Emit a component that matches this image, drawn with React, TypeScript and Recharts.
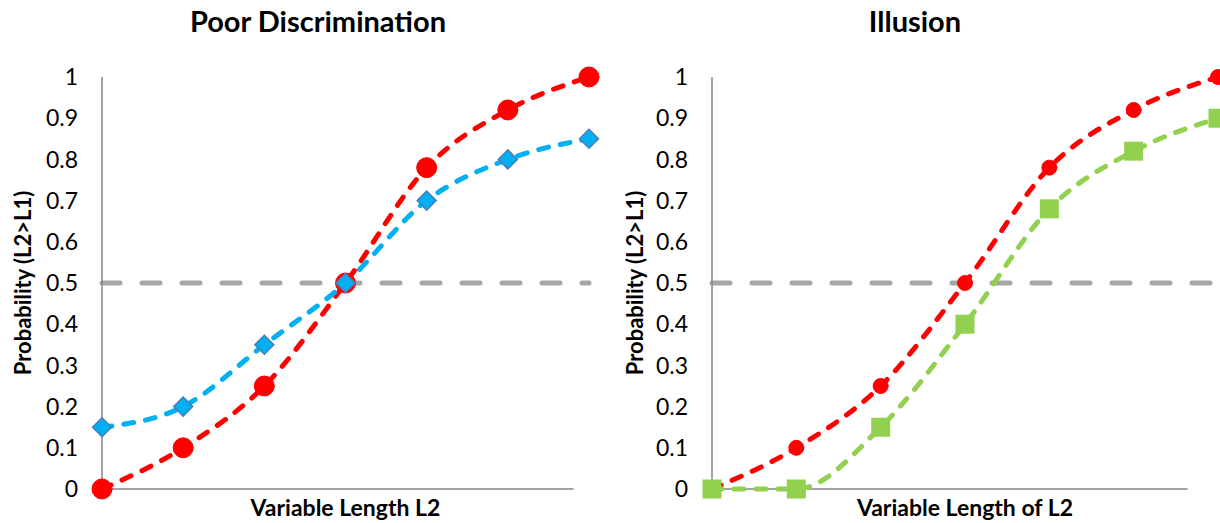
import React from "react"
import {
  LineChart,
  Line,
  XAxis,
  YAxis,
  ReferenceLine,
} from "recharts"

// x positions (7 test lengths, unlabeled on the axis)
const steps = [1, 2, 3, 4, 5, 6, 7]
const yTicks = [0, 0.1, 0.2, 0.3, 0.4, 0.5, 0.6, 0.7, 0.8, 0.9, 1]

const poorRed = [0, 0.1, 0.25, 0.5, 0.78, 0.92, 1.0]
const poorBlue = [0.15, 0.2, 0.35, 0.5, 0.7, 0.8, 0.85]

const illusionRed = [0, 0.1, 0.25, 0.5, 0.78, 0.92, 1.0]
const illusionGreen = [0, 0, 0.15, 0.4, 0.68, 0.82, 0.9]

const poorData = steps.map((x, i) => ({ x, red: poorRed[i], blue: poorBlue[i] }))
const illusionData = steps.map((x, i) => ({ x, red: illusionRed[i], green: illusionGreen[i] }))

const FONT = "Lato, 'Open Sans', sans-serif"
const DASH = "10 12"

const Diamond = (props: any) => {
  const { cx, cy } = props
  if (cx == null || cy == null) return null
  const r = 9.5
  return (
    <polygon
      points={`${cx},${cy - r} ${cx + r},${cy} ${cx},${cy + r} ${cx - r},${cy}`}
      fill="#00b0f0"
      stroke="#4a7ebb"
      strokeWidth={1.5}
    />
  )
}

const Square = (props: any) => {
  const { cx, cy } = props
  if (cx == null || cy == null) return null
  const s = 19
  return <rect x={cx - s / 2} y={cy - s / 2} width={s} height={s} fill="#92d050" />
}

const yLabel = (labelX: number) => ({ viewBox }: any) => {
  const cy = viewBox.y + viewBox.height / 2
  return (
    <text
      x={labelX}
      y={cy}
      transform={`rotate(-90, ${labelX}, ${cy})`}
      textAnchor="middle"
      dominantBaseline="central"
      fontFamily={FONT}
      fontWeight={700}
      fontSize={22}
      fill="#000"
    >
      Probability (L2&gt;L1)
    </text>
  )
}

const xLabelContent = (text: string) => ({ viewBox }: any) => (
  <text
    x={viewBox.x + viewBox.width / 2}
    y={507}
    textAnchor="middle"
    dominantBaseline="central"
    fontFamily={FONT}
    fontWeight={700}
    fontSize={23}
    fill="#000"
  >
    {text}
  </text>
)

function Panel({
  title,
  titleX,
  xLabel,
  data,
  second,
  axisEnd,
  marginRight,
  dotR,
  labelX,
}: any) {
  return (
    <div style={{ position: "relative", width: 610, height: 523 }}>
      <div
        style={{
          position: "absolute",
          left: titleX - 200,
          width: 400,
          top: 3,
          textAlign: "center",
          fontFamily: FONT,
          fontWeight: 700,
          fontSize: 29,
        }}
      >
        {title}
      </div>
      <LineChart
        width={610}
        height={523}
        data={data}
        margin={{ top: 77, right: marginRight, bottom: 0, left: 0 }}
      >
        <XAxis
          type="number"
          dataKey="x"
          domain={[1, 7]}
          tick={false}
          tickLine={false}
          axisLine={false}
          height={34}
          label={{ content: xLabelContent(xLabel) }}
        />
        <YAxis
          type="number"
          domain={[0, 1]}
          ticks={yTicks}
          interval={0}
          width={102}
          axisLine={{ stroke: "#868686", strokeWidth: 1.5 }}
          tickLine={false}
          tickSize={0}
          tickMargin={24}
          tick={{ fontFamily: FONT, fontSize: 23, fill: "#000" }}
          label={{ content: yLabel(labelX) }}
        />
        <ReferenceLine
          segment={[
            { x: 1, y: 0 },
            { x: axisEnd, y: 0 },
          ]}
          stroke="#868686"
          strokeWidth={1.5}
        />
        <ReferenceLine
          y={0.5}
          stroke="#a6a6a6"
          strokeWidth={5}
          strokeDasharray="18 22"
          strokeLinecap="round"
        />
        <Line
          type="monotone"
          dataKey="red"
          stroke="#ff0000"
          strokeWidth={5}
          strokeDasharray={DASH}
          strokeLinecap="round"
          dot={{ r: dotR, fill: "#ff0000", stroke: "#ff0000", strokeWidth: 1, strokeDasharray: "" }}
          isAnimationActive={false}
        />
        {second === "blue" ? (
          <Line
            type="monotone"
            dataKey="blue"
            stroke="#00b0f0"
            strokeWidth={5}
            strokeDasharray={DASH}
            strokeLinecap="round"
            dot={<Diamond />}
            isAnimationActive={false}
          />
        ) : (
          <Line
            type="monotone"
            dataKey="green"
            stroke="#92d050"
            strokeWidth={5}
            strokeDasharray={DASH}
            strokeLinecap="round"
            dot={<Square />}
            isAnimationActive={false}
          />
        )}
      </LineChart>
    </div>
  )
}

export default function App() {
  return (
    <div style={{ position: "absolute", left: 0, top: 0, width: 1220, height: 523, background: "#fff", display: "flex" }}>
      <Panel
        title="Poor Discrimination"
        titleX={318}
        xLabel="Variable Length L2"
        data={poorData}
        second="blue"
        axisEnd={6.81}
        marginRight={21}
        dotR={10}
        labelX={22}
      />
      <Panel
        title="Illusion"
        titleX={305}
        xLabel="Variable Length of L2"
        data={illusionData}
        second="green"
        axisEnd={6.64}
        marginRight={2}
        dotR={7.5}
        labelX={24}
      />
    </div>
  )
}
